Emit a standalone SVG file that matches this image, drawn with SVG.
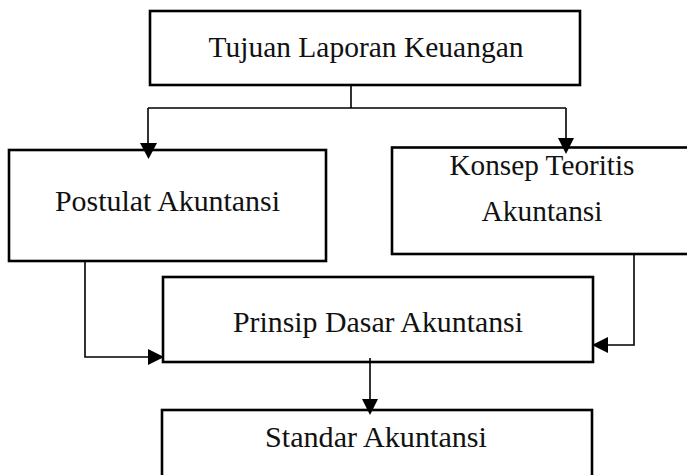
<svg xmlns="http://www.w3.org/2000/svg" width="687" height="475" viewBox="0 0 687 475">
  <defs>
    <style>
      .box { fill: #ffffff; stroke: #000000; stroke-width: 2.6; }
      .lbl { font-family: "Liberation Serif", "DejaVu Serif", serif; font-size: 28.5px; fill: #111111; text-anchor: middle; }
      .wire { fill: none; stroke: #000000; stroke-width: 1.6; }
      .head { fill: #000000; stroke: none; }
    </style>
  </defs>
  <rect width="687" height="475" fill="#ffffff"/>

  <g id="node-tujuan">
    <rect class="box" x="150" y="11" width="430" height="74"/>
    <text class="lbl" x="366" y="57" textLength="315" lengthAdjust="spacingAndGlyphs">Tujuan Laporan Keuangan</text>
  </g>

  <g id="node-postulat">
    <rect class="box" x="9" y="150" width="317" height="111"/>
    <text class="lbl" x="167.5" y="211" textLength="225" lengthAdjust="spacingAndGlyphs">Postulat Akuntansi</text>
  </g>

  <g id="node-konsep">
    <rect class="box" x="392" y="147.5" width="300" height="106.5"/>
    <text class="lbl" x="542" y="175" textLength="185" lengthAdjust="spacingAndGlyphs">Konsep Teoritis</text>
    <text class="lbl" x="542" y="221" textLength="121" lengthAdjust="spacingAndGlyphs">Akuntansi</text>
  </g>

  <g id="node-prinsip">
    <rect class="box" x="163" y="277" width="430" height="85"/>
    <text class="lbl" x="378" y="332" textLength="290" lengthAdjust="spacingAndGlyphs">Prinsip Dasar Akuntansi</text>
  </g>

  <g id="node-standar">
    <rect class="box" x="162" y="410" width="430" height="80"/>
    <text class="lbl" x="376" y="447" textLength="222" lengthAdjust="spacingAndGlyphs">Standar Akuntansi</text>
  </g>

  <g id="connectors">
    <path class="wire" d="M351 85 V108 M148 108 H566 M148 108 V144 M566 108 V139"/>
    <polygon class="head" points="140,143 157,143 148.5,159"/>
    <polygon class="head" points="558,138 574,138 566,154"/>
    <path class="wire" d="M85 261 V357 H149"/>
    <polygon class="head" points="148,349 148,365 164,357"/>
    <path class="wire" d="M634 254 V345 H607"/>
    <polygon class="head" points="608,337 608,353 592,345"/>
    <path class="wire" d="M370 358 V400"/>
    <polygon class="head" points="362,399 378,399 370,415"/>
  </g>
</svg>
